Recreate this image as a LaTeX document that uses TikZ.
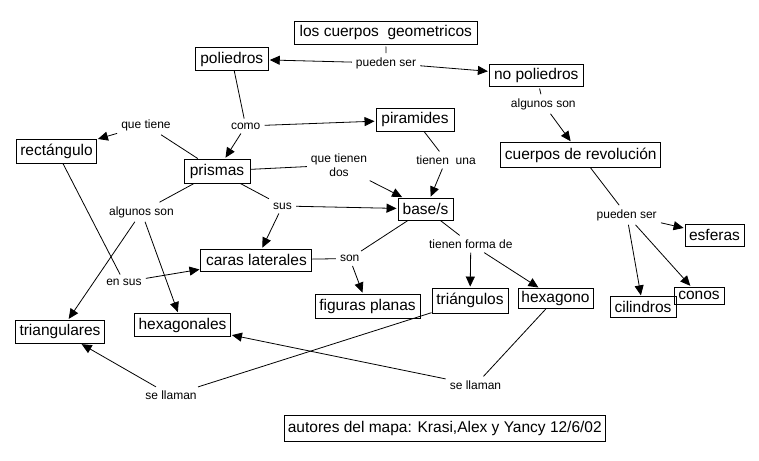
\documentclass[tikz,border=0pt]{standalone}
\usepackage{fontspec}
\setmainfont{Liberation Sans}
\usetikzlibrary{arrows.meta}
\begin{document}
\begin{tikzpicture}[x=1pt,y=-1pt,
  box/.style={draw,line width=0.9pt,inner sep=0pt,font=\fontsize{15.5}{18}\selectfont,align=center},
  lbl/.style={inner sep=4pt,font=\fontsize{12}{14}\selectfont,align=center},
  ln/.style={line width=0.8pt},
  arr/.style={line width=0.8pt,-{Triangle[length=10pt,width=9pt]},shorten >=1pt}]
\useasboundingbox[fill=white] (0,0) rectangle (759,460);
% boxes
\node[box,minimum width=183pt,minimum height=23pt] (geo) at (385.8,32.7) {los cuerpos\ \ geometricos};
\node[box,minimum width=73pt,minimum height=23pt] (poli) at (231.8,59) {poliedros};
\node[box,minimum width=94pt,minimum height=22pt] (nopoli) at (536.3,75.2) {no poliedros};
\node[box,minimum width=78pt,minimum height=23pt] (pir) at (415,119.7) {piramides};
\node[box,minimum width=80pt,minimum height=24pt] (rect) at (56.5,151) {rectángulo};
\node[box,minimum width=66pt,minimum height=24pt] (pri) at (217,171) {prismas};
\node[box,minimum width=160pt,minimum height=25pt] (cr) at (580.7,155) {cuerpos de revolución};
\node[box,minimum width=55pt,minimum height=22pt] (base) at (425.5,209) {base/s};
\node[box,minimum width=59pt,minimum height=22pt] (esf) at (714.5,235) {esferas};
\node[box,minimum width=111pt,minimum height=22pt] (caras) at (256.4,260) {caras laterales};
\node[box,minimum width=105pt,minimum height=24pt] (fig) at (367.5,306) {figuras planas};
\node[box,minimum width=76pt,minimum height=25pt] (tri) at (470,300.5) {triángulos};
\node[box,minimum width=75pt,minimum height=20pt] (hexo) at (555.5,298.5) {hexagono};
\node[box,minimum width=50pt,minimum height=17pt] (conos) at (699,295.5) {conos};
\node[box,minimum width=66pt,minimum height=21pt] (cil) at (643,307.3) {cilindros};
\node[box,minimum width=89pt,minimum height=23pt] (trs) at (60,331.7) {triangulares};
\node[box,minimum width=96pt,minimum height=23pt] (hexs) at (182.5,325) {hexagonales};
\node[box,minimum width=321pt,minimum height=26pt] (aut) at (444.8,428) {autores del mapa: Krasi,Alex y Yancy 12/6/02};
% labels
\node[lbl] (p1) at (386,63) {pueden ser};
\node[lbl] (a2) at (543.3,104) {algunos son};
\node[lbl] (como) at (245.7,126) {como};
\node[lbl] (qt) at (146,125) {que tiene};
\node[lbl] (qtd) at (339,165) {que tienen\\dos};
\node[lbl] (tu) at (446,160) {tienen\ \ una};
\node[lbl] (sus) at (282.5,206) {sus};
\node[lbl] (a1) at (141.5,212) {algunos son};
\node[lbl] (es) at (124,282) {en sus};
\node[lbl] (son) at (349.7,258.5) {son};
\node[lbl] (tfd) at (470.8,244) {tienen forma de};
\node[lbl] (p2) at (626.7,215) {pueden ser};
\node[lbl] (sl1) at (171,395.5) {se llaman};
\node[lbl] (sl2) at (475.5,385) {se llaman};
% connectors
\draw[ln,shorten <=2pt] (geo) -- (p1);
\draw[arr] (p1) -- (poli);
\draw[arr] (p1) -- (nopoli);
\draw[ln,shorten <=2pt] (nopoli) -- (a2);
\draw[arr] (a2) -- (cr);
\draw[ln] (poli) -- (como);
\draw[arr] (como) -- (pri);
\draw[arr] (como) -- (pir);
\draw[ln] (pri) -- (qt);
\draw[arr] (qt) -- (rect);
\draw[ln] (pri) -- (qtd);
\draw[arr] (qtd) -- (base);
\draw[ln] (pir) -- (tu);
\draw[arr] (tu) -- (base);
\draw[ln] (pri) -- (sus);
\draw[arr] (sus) -- (base);
\draw[arr] (sus) -- (caras);
\draw[ln] (pri) -- (a1);
\draw[arr] (a1) -- (trs);
\draw[arr] (a1) -- (hexs);
\draw[ln] (rect) -- (es);
\draw[arr] (es) -- (caras);
\draw[ln] (caras) -- (son);
\draw[ln] (base) -- (son);
\draw[arr] (son) -- (fig);
\draw[ln] (base) -- (tfd);
\draw[arr] (tfd) -- (tri);
\draw[arr] (tfd) -- (hexo);
\draw[ln] (cr) -- (p2);
\draw[arr] (p2) -- (esf);
\draw[arr] (p2) -- (cil);
\draw[arr] (p2) -- (conos);
\draw[ln] (tri) -- (sl1);
\draw[arr] (sl1) -- (trs);
\draw[ln] (hexo) -- (sl2);
\draw[arr] (sl2) -- (hexs);
\end{tikzpicture}
\end{document}
